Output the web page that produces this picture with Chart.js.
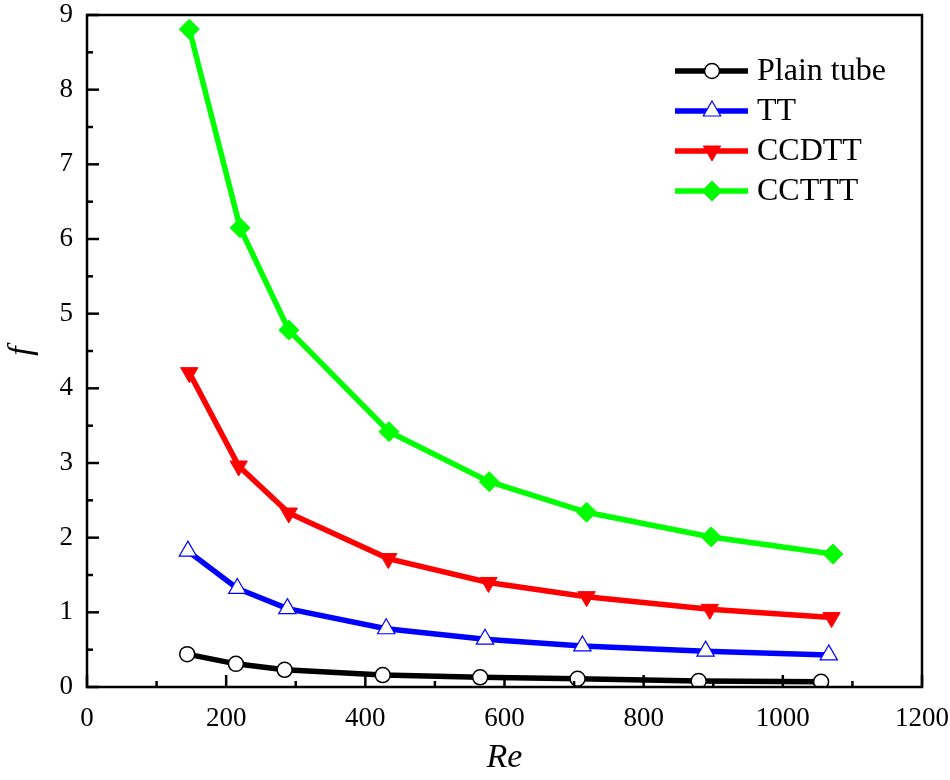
<!DOCTYPE html>
<html>
<head>
<meta charset="utf-8">
<script src="https://cdn.jsdelivr.net/npm/chart.js@4.4.1/dist/chart.umd.min.js"></script>
<style>
  html, body { margin: 0; padding: 0; background: #fff; }
  canvas { display: block; }
</style>
</head>
<body>
<canvas id="fChart" width="950" height="780"></canvas>
<script>
// datos
const rePlain = [144, 214, 284, 425, 565, 705, 879, 1055];
const fPlain = [0.44, 0.31, 0.23, 0.16, 0.13, 0.11, 0.08, 0.07];
const reTT = [145, 216, 288, 430, 572, 712, 889, 1066];
const fTT = [1.82, 1.32, 1.05, 0.78, 0.64, 0.55, 0.48, 0.43];
const reCCDTT = [147, 218, 290, 433, 577, 718, 895, 1070];
const fCCDTT = [4.21, 2.96, 2.33, 1.72, 1.40, 1.21, 1.04, 0.93];
const reCCTTT = [147, 220, 290, 434, 578, 718, 897, 1072];
const fCCTTT = [8.81, 6.15, 4.78, 3.42, 2.75, 2.34, 2.01, 1.78];
const seriesNames = ['Plain tube', 'TT', 'CCDTT', 'CCTTT'];
const xTicks = [0, 200, 400, 600, 800, 1000, 1200];
const yTicks = [0, 1, 2, 3, 4, 5, 6, 7, 8, 9];

const serif = "'Liberation Serif', 'DejaVu Serif', serif";

function toPoints(xs, ys) {
    return xs.map((x, i) => ({ x: x, y: ys[i] }));
}

// ticks hacia dentro, marco y leyenda
const framePlugin = {
    id: 'frame',
    afterDraw(chart) {
        const ctx = chart.ctx;
        const a = chart.chartArea;
        const xs = chart.scales.x;
        const ys = chart.scales.y;
        ctx.save();
        ctx.strokeStyle = '#000';
        ctx.lineWidth = 2.5;
        ctx.strokeRect(a.left, a.top, a.right - a.left, a.bottom - a.top);
        for (let v = 0; v <= 1200; v += 100) {
            const px = xs.getPixelForValue(v);
            const len = v % 200 === 0 ? 12 : 6;
            ctx.beginPath();
            ctx.moveTo(px, a.bottom);
            ctx.lineTo(px, a.bottom - len);
            ctx.stroke();
        }
        for (let v = 0; v <= 9; v += 0.5) {
            const py = ys.getPixelForValue(v);
            const len = Number.isInteger(v) ? 12 : 6;
            ctx.beginPath();
            ctx.moveTo(a.left, py);
            ctx.lineTo(a.left + len, py);
            ctx.stroke();
        }

        // leyenda
        const rows = [71, 111, 151, 191];
        chart.data.datasets.forEach((ds, i) => {
            const y = rows[i];
            ctx.strokeStyle = ds.borderColor;
            ctx.lineWidth = ds.borderWidth;
            ctx.beginPath();
            ctx.moveTo(675, y);
            ctx.lineTo(748, y);
            ctx.stroke();
            ctx.fillStyle = ds.pointBackgroundColor;
            ctx.strokeStyle = ds.pointBorderColor;
            ctx.lineWidth = ds.pointBorderWidth;
            Chart.helpers.drawPoint(ctx, {
                pointStyle: ds.pointStyle,
                rotation: ds.pointRotation || 0,
                radius: ds.pointRadius,
                borderWidth: ds.pointBorderWidth
            }, 712, y);
            ctx.fillStyle = '#000';
            ctx.font = '32px ' + serif;
            ctx.textBaseline = 'middle';
            ctx.textAlign = 'left';
            ctx.fillText(ds.label, 757, y + 1);
        });
        ctx.restore();
    }
};

new Chart(document.getElementById('fChart').getContext('2d'), {
    type: 'line',
    data: {
        datasets: [
            {
                label: seriesNames[0],
                data: toPoints(rePlain, fPlain),
                borderColor: '#000000',
                borderWidth: 5.5,
                pointStyle: 'circle',
                pointRadius: 7.5,
                pointBackgroundColor: '#ffffff',
                pointBorderColor: '#000000',
                pointBorderWidth: 1.5
            },
            {
                label: seriesNames[1],
                data: toPoints(reTT, fTT),
                borderColor: '#0000ff',
                borderWidth: 5.5,
                pointStyle: 'triangle',
                pointRadius: 10,
                pointBackgroundColor: '#ffffff',
                pointBorderColor: '#0000ff',
                pointBorderWidth: 1.2
            },
            {
                label: seriesNames[2],
                data: toPoints(reCCDTT, fCCDTT),
                borderColor: '#ff0000',
                borderWidth: 5.5,
                pointStyle: 'triangle',
                pointRotation: 180,
                pointRadius: 10,
                pointBackgroundColor: '#ff0000',
                pointBorderColor: '#ff0000',
                pointBorderWidth: 1
            },
            {
                label: seriesNames[3],
                data: toPoints(reCCTTT, fCCTTT),
                borderColor: '#00ff00',
                borderWidth: 5.5,
                pointStyle: 'rectRot',
                pointRadius: 10,
                pointBackgroundColor: '#00ff00',
                pointBorderColor: '#00ff00',
                pointBorderWidth: 1
            }
        ]
    },
    options: {
        responsive: false,
        animation: false,
        devicePixelRatio: 1,
        layout: { padding: { top: 15, right: 28, left: 0, bottom: 0 } },
        plugins: {
            legend: { display: false },
            tooltip: { enabled: false }
        },
        scales: {
            x: {
                type: 'linear',
                min: 0,
                max: 1200,
                afterFit: (s) => {
                    s.height = 93;
                    s.paddingLeft = 0;
                    s.paddingRight = 0;
                },
                afterBuildTicks: (s) => { s.ticks = xTicks.map(v => ({ value: v })); },
                grid: { display: false, drawTicks: false },
                border: { display: false },
                ticks: {
                    color: '#000',
                    padding: 16,
                    maxRotation: 0,
                    callback: (v) => String(v),
                    font: { family: serif, size: 27 }
                },
                title: {
                    display: true,
                    text: 'Re',
                    color: '#000',
                    padding: { top: 0, bottom: 2 },
                    font: { family: serif, size: 34, style: 'italic' }
                }
            },
            y: {
                type: 'linear',
                min: 0,
                max: 9,
                afterFit: (s) => {
                    s.width = 87;
                    s.paddingTop = 0;
                    s.paddingBottom = 0;
                },
                afterBuildTicks: (s) => { s.ticks = yTicks.map(v => ({ value: v })); },
                grid: { display: false, drawTicks: false },
                border: { display: false },
                ticks: {
                    color: '#000',
                    padding: 14,
                    callback: (v) => String(v),
                    font: { family: serif, size: 27 }
                },
                title: {
                    display: true,
                    text: 'f',
                    color: '#000',
                    padding: { top: 2, bottom: 0 },
                    font: { family: serif, size: 34, style: 'italic' }
                }
            }
        }
    },
    plugins: [framePlugin]
});
</script>
</body>
</html>
